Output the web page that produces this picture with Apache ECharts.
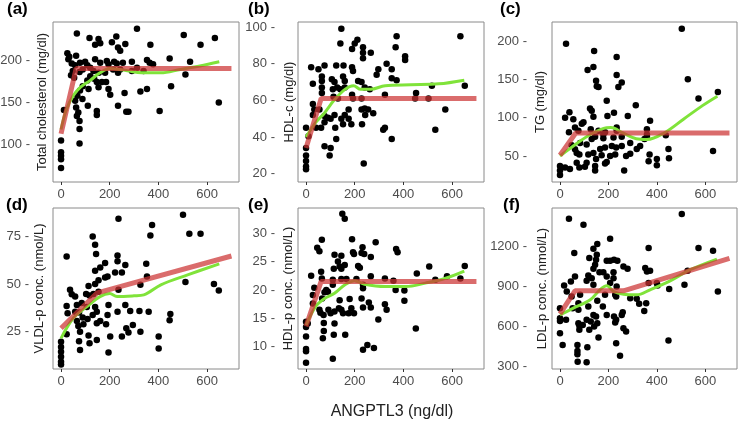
<!DOCTYPE html>
<html><head><meta charset="utf-8">
<script src="https://cdn.jsdelivr.net/npm/echarts@6/dist/echarts.min.js"></script>
<style>html,body{margin:0;padding:0;background:#fff}#c{width:739px;height:425px}</style>
</head><body><div id="c"></div>
<script>
// ---- data ----
const xTicks = [0, 200, 400, 600];
const panelLetters = ['(a)', '(b)', '(c)', '(d)', '(e)', '(f)'];
const yNames = ['Total cholesterol (mg/dl)', 'HDL-c (mg/dl)', 'TG (mg/dl)',
  'VLDL-p conc. (nmol/L)', 'HDL-p conc. (nmol/L)', 'LDL-p conc. (nmol/L)'];
const xTitle = 'ANGPTL3 (ng/dl)';
const yTicksA = [100, 150, 200];
const yTicksB = [20, 40, 60, 80, 100];
const yTicksC = [50, 100, 150, 200];
const yTicksD = [25, 50, 75];
const yTicksE = [10, 15, 20, 25, 30];
const yTicksF = [300, 600, 900, 1200];

const ptsA = [[65,231.5],[312,237],[504,229.5],[632,226],[573,218],[227,228],[117,226],[154,225],[161,220],[140,218],[209,221],[264,219],[234,215],[243,211],[367,218],[446,202],[353,200],[364,197],[378,195],[530,198],[511,183],[26,208],[34,204],[62,205],[30,201],[44,196],[58,194],[78,197],[99,198],[108,194],[89,189],[48,187],[41,182],[54,179],[76,186],[120,191],[140,201],[161,197],[188,199],[195,195],[218,198],[229,196],[254,197],[291,198],[291,187],[234,185],[181,185],[155,185],[133,187],[120,181],[136,178],[147,174],[168,174],[185,174],[195,166],[202,159],[154,168],[108,176],[113,166],[89,169],[78,164],[88,154],[67,158],[58,152],[62,144],[71,138],[65,134],[76,128],[76,118.5],[76,101.6],[12,141],[110,146],[147,140],[147,135],[234,146],[268,139],[277,139],[261,161],[326,163],[353,166],[405,140],[452,169],[648,150],[0,105],[0,91],[0,87],[0,83],[0,72.4],[243,189],[214,189],[312,191],[339,187]];
const ptsB = [[145,99],[141,91],[634,95],[372,95],[368,89],[211,93],[200,91],[189,88],[234,89],[234,86],[234,83],[266,86],[407,84],[407,82],[331,80],[76,79],[124,79],[154,79],[21,78],[51,77],[189,78],[193,76],[297,77],[290,74],[352,77],[65,73],[65,70.5],[65,67],[65,64],[28,69],[106,71.5],[117,70],[152,73],[159,70.5],[128,67],[141,66],[110,66],[159,67],[214,70.5],[228,70],[241,67],[262,66],[352,72],[372,71],[28,58],[34,55],[28,52],[55,55],[76,51.5],[90,50.5],[101,50],[117,52],[145,50],[159,52],[175,50],[175,55],[186,47],[152,47],[120,45],[76,48],[62,45],[41,45],[230,47],[243,52],[241,55.5],[228,55],[255,55],[276,53],[228,61],[193,61],[189,63],[131,61],[113,62],[324,63],[317,44],[324,45],[352,39],[124,39],[76,35],[101,34],[97,30],[237,25.6],[448,61],[452,64],[503,61],[517,68],[572,55],[531,44],[652,68],[0,45],[0,34],[0,30],[0,27],[0,24],[0,22.4],[10,40.5]];
const ptsC = [[503,216],[25,196.5],[141,187],[138,166],[114,162],[234,179],[234,155.6],[255,146],[241,140],[149,148],[152,141],[159,140],[528,150],[572,125],[652,133.5],[313,116],[193,122],[124,112],[131,109],[138,101],[196,102],[223,106.5],[280,102],[39,107],[21,100],[372,96],[55,98],[90,92],[97,94],[62,87],[76,83],[37,81],[127,85],[159,83],[234,87],[234,83],[179,78],[186,81],[359,85],[359,78],[437,77],[359,75],[349,72],[290,67],[255,75],[221,74],[179,73],[145,75],[131,72],[110,65],[83,67],[48,64],[62,58.7],[69,54],[80,52],[117,52],[138,54],[166,59],[186,61],[214,63],[232,61],[255,63],[228,52],[207,50],[172,51],[273,50],[290,53],[317,59],[331,63],[370,52],[448,59],[450,47],[400,46],[366,43],[400,38],[632,56.5],[193,42],[186,40],[149,46],[110,41],[69,41],[80,35],[103,36],[145,37],[145,31],[265,31],[0,37],[0,31],[0,25],[21,35],[41,33]];
const ptsD = [[501,86.4],[236,84.3],[374,81],[367,75.5],[527,76.4],[573,76.4],[23,64.5],[130,75],[140,70.6],[144,65.7],[232,65],[232,62],[264,60],[181,61],[161,58.7],[140,57],[222,56],[250,56],[350,60.6],[191,54],[181,53.4],[140,50],[113,49],[154,52],[353,54],[326,49.6],[511,51],[628,50],[648,46.6],[236,47],[37,47],[44,44.6],[58,43.4],[103,44.8],[133,44.8],[154,46],[117,44],[23,38.5],[27,34.6],[65,39],[85,40],[106,38],[140,38],[147,35.5],[130,33.8],[109,31.7],[89,32.4],[74,35],[58,35.5],[195,39],[232,35.5],[264,39],[284,35.9],[322,35.9],[360,35.5],[161,30.6],[147,29.4],[185,28.9],[191,33.8],[92,28.9],[71,28],[65,30.6],[78,25],[74,20],[78,15.4],[113,23],[117,18.9],[147,20.6],[202,22.4],[195,14],[250,22.4],[268,26.8],[277,24.5],[295,28.5],[326,25],[401,22.4],[401,16.2],[449,34.3],[446,31],[0,19.7],[0,17],[0,14.5],[0,11.8],[0,9.2],[0,7.8],[23,23.6]];
const ptsE = [[149,33.4],[159,32.5],[65,28.8],[189,28.9],[286,28.4],[46,27.4],[55,26.8],[117,26.2],[145,26],[193,26.6],[197,26.3],[232,27.5],[228,26.5],[239,26.3],[266,25.8],[370,27.2],[376,26.6],[131,25],[159,24.4],[138,24.1],[214,24.2],[221,23.9],[455,22.9],[506,24.1],[652,24.2],[21,22.5],[62,23.2],[114,23.7],[145,23.7],[65,22],[110,21.8],[145,21.9],[166,21.9],[207,21.9],[266,22.4],[324,22],[531,21.8],[579,22.4],[634,22],[359,21.6],[368,20],[404,19.9],[404,18.1],[234,20.9],[234,20.3],[110,20.9],[83,20],[90,19.7],[34,20.4],[28,19.1],[28,17.6],[76,19.6],[66,18.5],[55,16.5],[59,16],[72,15.6],[92,16.5],[101,15.9],[117,16.2],[135,16.8],[145,16.5],[152,15.9],[138,18.2],[179,18.4],[186,16.8],[197,15.9],[175,15.9],[228,18.5],[234,16.9],[258,17.8],[266,16.9],[324,17.5],[331,16.5],[161,12.1],[117,14.1],[73,14.2],[73,12.8],[69,11.5],[114,12.1],[297,14.8],[451,13.2],[252,10.3],[234,9.5],[279,9.8],[110,7.9],[0,14.4],[0,13.5],[0,11.8],[0,9.6],[0,9.2],[0,7.2],[7,14.1]];
const ptsF = [[503,1442],[37,1407],[97,1362],[207,1257],[154,1217],[366,1187],[572,1187],[632,1167],[138,1182],[152,1137],[59,1150],[121,1112],[149,1100],[145,1062],[138,1032],[193,1092],[207,1092],[223,1100],[237,1092],[262,1050],[279,1032],[352,1037],[359,1012],[372,1017],[527,1017],[163,1007],[179,1007],[193,975],[221,1007],[221,962],[117,982],[110,942],[131,962],[62,975],[45,937],[17,907],[28,862],[138,912],[207,925],[234,900],[366,925],[400,925],[403,907],[514,912],[451,880],[652,862],[48,825],[76,775],[83,837],[186,837],[228,837],[232,825],[290,812],[317,807],[327,770],[356,775],[348,717],[52,737],[76,725],[117,750],[154,792],[177,750],[138,687],[149,675],[193,687],[223,675],[259,707],[255,687],[0,737],[0,662],[0,642],[25,650],[0,550],[11,462],[76,625],[110,650],[127,637],[80,605],[94,612],[121,575],[141,600],[80,575],[154,625],[228,630],[232,650],[262,587],[273,562],[72,462],[72,417],[72,392],[113,445],[73,337],[110,332],[159,517],[232,475],[248,382],[448,495]];

// piecewise (red) fits
const redA = [[0,113],[62,190],[700,190]];
const redB = [[0,34],[62,61],[700,61]];
const redC = [[0,51],[65,80],[700,80]];
const redD = [[0,26.8],[149,45.4],[700,64.7]];
const redE = [[0,13.6],[62,21.5],[700,21.5]];
const redF = [[0,695],[62,867],[262,867],[700,1110]];
// loess (green) fits
const grnA = [[0,118],[20,140],[50,158],[80,168],[120,176],[160,185],[200,190],[240,189],[280,187],[330,185],[410,185],[490,189],[570,193],[650,198]];
const grnB = [[0,40],[40,48],[75,53],[115,60],[160,66],[195,68],[225,66],[265,66],[325,68],[430,68.5],[545,69],[650,71]];
const grnC = [[0,50],[55,63],[120,77],[180,86],[210,87],[260,80],[315,72.5],[360,71.5],[430,80],[510,98],[590,116],[650,128]];
const grnD = [[0,21.5],[50,32],[105,38],[160,43.4],[200,45],[230,43.4],[300,43.8],[340,44.3],[410,49.6],[520,54.8],[650,60.6]];
const grnE = [[0,13.8],[40,17.1],[76,18.5],[117,19.4],[160,20.9],[200,21.6],[240,21],[325,20.6],[410,20.6],[490,21.2],[570,22],[650,23.3]];
const grnF = [[0,687],[55,737],[125,800],[165,875],[193,905],[222,862],[262,842],[317,837],[372,875],[455,942],[538,1025],[648,1105]];

const yRanges = [[56,245],[15.5,102.7],[16,224.8],[5.4,89.9],[6.1,34.4],[282,1487]];
const xRange = [-33, 731];

// ---- layout ----
const gridBoxes = [
  {left:53, top:22, width:186, height:160},
  {left:298, top:22, width:186, height:160},
  {left:552, top:22, width:185, height:160},
  {left:53, top:208, width:186, height:161},
  {left:298, top:208, width:186, height:161},
  {left:552, top:208, width:185, height:161}
];
const pts = [ptsA, ptsB, ptsC, ptsD, ptsE, ptsF];
const reds = [redA, redB, redC, redD, redE, redF];
const grns = [grnA, grnB, grnC, grnD, grnE, grnF];
const yTicks = [yTicksA, yTicksB, yTicksC, yTicksD, yTicksE, yTicksF];
const letterPos = [[7,11],[248,11],[500,11],[6,207],[248,207],[503,207]];
const yLabelMargin = [23, 23, 25, 24, 23, 25];
const yNameX = [42, 289, 540, 39, 288, 542];

const grid = [], xAxis = [], yAxis = [], series = [], graphic = [];
for (let i = 0; i < 6; i++) {
  grid.push(Object.assign({show:true, borderColor:'#8a8a8a', borderWidth:1, containLabel:false, outerBoundsMode:'none'}, gridBoxes[i]));
  xAxis.push({type:'value', gridIndex:i, min:xRange[0], max:xRange[1],
    axisLine:{show:false}, splitLine:{show:false},
    axisTick:{show:true, length:3, lineStyle:{color:'#333'}, customValues:xTicks},
    axisLabel:{color:'#4d4d4d', fontSize:13, fontFamily:'Liberation Sans', margin:6, customValues:xTicks}});
  yAxis.push({type:'value', gridIndex:i, min:yRanges[i][0], max:yRanges[i][1],
    axisLine:{show:false}, splitLine:{show:false}, axisTick:{show:false, customValues:yTicks[i]},
    axisLabel:{color:'#4d4d4d', fontSize:13, fontFamily:'Liberation Sans', margin:yLabelMargin[i],
      customValues:yTicks[i], formatter: v => v + ' -'}});
  series.push({type:'scatter', xAxisIndex:i, yAxisIndex:i, data:pts[i], symbolSize:6.5,
    itemStyle:{color:'#000', opacity:1}, silent:true, z:2});
  series.push({type:'line', xAxisIndex:i, yAxisIndex:i, data:grns[i], smooth:0.35, showSymbol:false,
    lineStyle:{color:'#80E33A', width:3}, silent:true, z:3});
  series.push({type:'line', xAxisIndex:i, yAxisIndex:i, data:reds[i], smooth:false, showSymbol:false,
    lineStyle:{color:'rgba(204,51,51,0.72)', width:5}, silent:true, z:4});
  graphic.push({type:'text', left:letterPos[i][0], top:letterPos[i][1]-10,
    style:{text:panelLetters[i], font:'bold 17px "Liberation Sans"', fill:'#000'}});
  const b = gridBoxes[i];
  graphic.push({type:'text', x:yNameX[i], y:b.top + b.height/2, rotation:Math.PI/2,
    style:{text:yNames[i], font:'13px "Liberation Sans"', fill:'#222', textAlign:'center', textVerticalAlign:'middle'}});
}
graphic.push({type:'text', x:392, y:412, style:{text:xTitle, font:'16px "Liberation Sans"', fill:'#222', textAlign:'center', textVerticalAlign:'middle'}});

const chart = echarts.init(document.getElementById('c'), null, {renderer:'canvas'});
chart.setOption({animation:false, backgroundColor:'#fff', grid, xAxis, yAxis, series, graphic});
</script></body></html>
